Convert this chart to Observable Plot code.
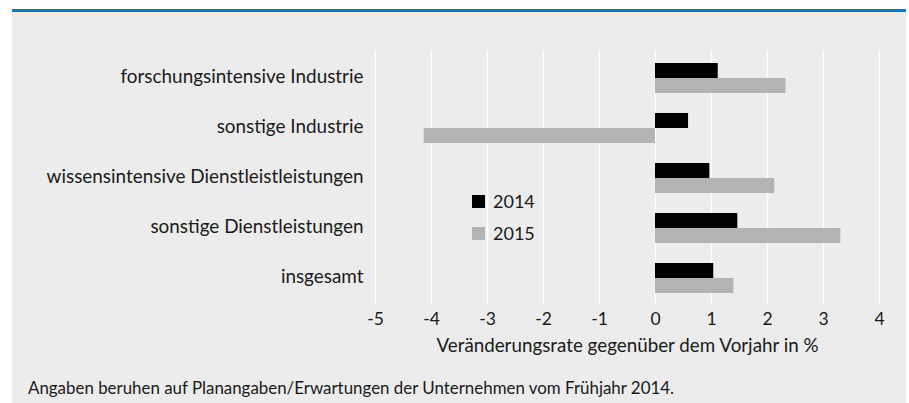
<!DOCTYPE html>
<html>
<head>
<meta charset="utf-8">
<script src="https://cdn.jsdelivr.net/npm/d3@7"></script>
<script src="https://cdn.jsdelivr.net/npm/@observablehq/plot@0.6"></script>
<style>
  html, body { margin: 0; padding: 0; background: #fff; }
  body { position: relative; width: 909px; height: 403px; overflow: hidden; font-family: Lato, "Noto Sans", sans-serif; color: #1a1a1a; }
  #panel { position: absolute; left: 12px; top: 9px; width: 894px; height: 394px; background: #ececec; border-top: 3px solid #0b79c4; box-sizing: border-box; }
  .layer { position: absolute; left: 12px; top: 12px; }
  #legend { position: absolute; left: 472px; top: 186px; font-size: 18px; line-height: 31.5px; }
  #legend .row { display: flex; align-items: center; height: 31.5px; }
  #legend .sw { width: 13px; height: 13px; margin-right: 8px; }
  #caption { position: absolute; left: 28px; top: 379px; font-size: 16.9px; line-height: 18px; }
</style>
</head>
<body>
<div id="panel"></div>
<div id="grid" class="layer"></div>
<div id="bars" class="layer"></div>
<div id="legend"></div>
<div id="caption"></div>
<script>
const categories = [
  "forschungsintensive Industrie",
  "sonstige Industrie",
  "wissensintensive Dienstleistleistungen",
  "sonstige Dienstleistungen",
  "insgesamt"
];
const years = ["2014", "2015"];
const values2014 = [1.12, 0.59, 0.97, 1.47, 1.04];
const values2015 = [2.33, -4.13, 2.13, 3.31, 1.40];
const xTicks = [-5, -4, -3, -2, -1, 0, 1, 2, 3, 4];
const colors = ["#000000", "#b2b3b5"];
const xLabel = "Veränderungsrate gegenüber dem Vorjahr in %";
const captionText = "Angaben beruhen auf Planangaben/Erwartungen der Unternehmen vom Frühjahr 2014.";

const data = [];
categories.forEach((c, i) => {
  data.push({category: c, year: years[0], value: values2014[i]});
  data.push({category: c, year: years[1], value: values2015[i]});
});

const common = {
  width: 894, height: 360,
  marginLeft: 363, marginRight: 27, marginTop: 39, marginBottom: 68,
  style: {background: "transparent", fontFamily: "Lato, 'Noto Sans', sans-serif", color: "#1a1a1a"}
};

const gridPlot = Plot.plot({
  ...common,
  x: {domain: [-5, 4]},
  marks: [
    Plot.gridX(xTicks, {stroke: "#ffffff", strokeOpacity: 1, strokeWidth: 1.5}),
    Plot.axisX(xTicks, {
      tickSize: 0, tickPadding: 8, fontSize: 17.5,
      tickFormat: d => String(d).replace("\u2212", "-"),
      label: xLabel, labelAnchor: "center", labelArrow: "none", labelOffset: 47
    })
  ]
});
gridPlot.querySelectorAll("text").forEach(t => {
  if (t.textContent === xLabel) t.setAttribute("font-size", "18.8");
});
document.getElementById("grid").appendChild(gridPlot);

const barPlot = Plot.plot({
  ...common,
  x: {domain: [-5, 4], axis: null},
  fy: {domain: categories, paddingInner: 0.4, paddingOuter: 0.2, label: null, axis: null},
  y: {domain: years, padding: 0, axis: null},
  color: {domain: years, range: colors},
  marks: [
    Plot.barX(data, {fy: "category", y: "year", x: "value", fill: "year"}),
    Plot.axisFy({anchor: "left", tickSize: 0, tickPadding: 12, fontSize: 18.9, dy: -1.5, label: null})
  ]
});
document.getElementById("bars").appendChild(barPlot);

const legend = document.getElementById("legend");
years.forEach((y, i) => {
  const row = document.createElement("div");
  row.className = "row";
  const sw = document.createElement("div");
  sw.className = "sw";
  sw.style.background = colors[i];
  const t = document.createElement("span");
  t.textContent = y;
  row.appendChild(sw); row.appendChild(t);
  legend.appendChild(row);
});
document.getElementById("caption").textContent = captionText;
</script>
</body>
</html>
